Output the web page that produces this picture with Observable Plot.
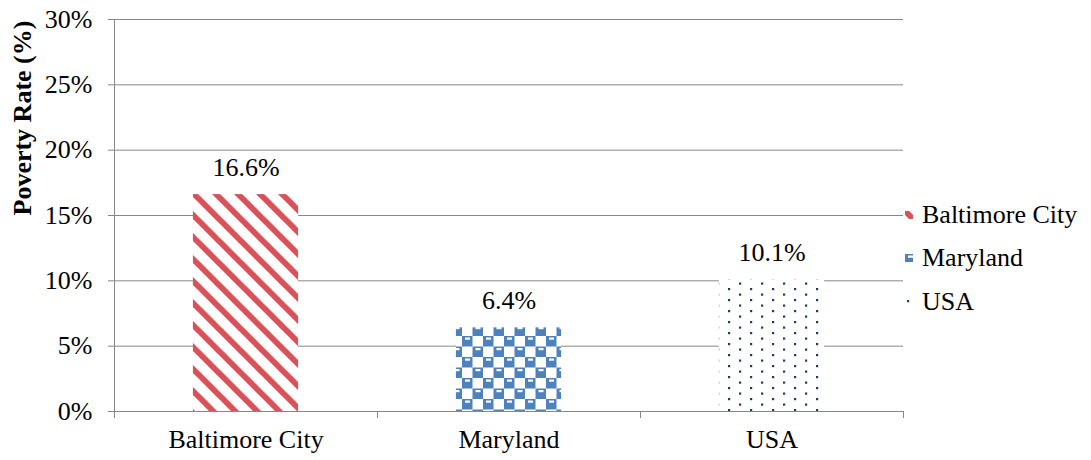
<!DOCTYPE html>
<html>
<head>
<meta charset="utf-8">
<script src="https://cdn.jsdelivr.net/npm/d3@7"></script>
<script src="https://cdn.jsdelivr.net/npm/@observablehq/plot@0.6"></script>
<style>
  html, body { margin: 0; padding: 0; background: #fff; }
  #wrap { position: relative; width: 1091px; height: 460px; font-family: "Liberation Serif", "Times New Roman", serif; }
  #legend { position: absolute; left: 905px; top: 0; }
  .item { position: absolute; left: 0; white-space: nowrap; font-size: 26px; line-height: 30px; height: 30px; display: flex; align-items: center; }
  .item svg { margin-right: 9px; }
</style>
</head>
<body>
<div id="wrap"><div id="legend"></div></div>
<script>
const categories = ["Baltimore City", "Maryland", "USA"];
const rates = [16.6, 6.4, 10.1];
const yTicks = [0, 5, 10, 15, 20, 25, 30];
const yLabel = "Poverty Rate (%)";

const data = categories.map((c, i) => ({category: c, index: i, rate: rates[i]}));
const gray = "#878787";
const font = "Liberation Serif, Times New Roman, serif";

const chart = Plot.plot({
  width: 1091,
  height: 460,
  marginLeft: 114,
  marginRight: 188,
  marginTop: 19,
  marginBottom: 49,
  style: {fontFamily: font, fontSize: "26px", color: "#000", background: "white", overflow: "visible"},
  x: {domain: [0, categories.length], axis: null},
  y: {domain: [0, 30], axis: null},
  color: {type: "identity"},
  marks: [
    Plot.gridY(yTicks, {stroke: gray, strokeOpacity: 1, strokeWidth: 1}),
    Plot.rectY(data, {
      x1: d => d.index + 0.3,
      x2: d => d.index + 0.7,
      y1: 0,
      y2: "rate",
      fill: d => `url(#pat-${d.index})`
    }),
    Plot.ruleX([0], {stroke: gray}),
    Plot.ruleY([0], {stroke: gray}),
    Plot.axisY(yTicks, {tickSize: 6, tickPadding: 16, tickFormat: d => d + "%", stroke: gray, fontSize: 26, label: null}),
    Plot.axisX(d3.range(categories.length + 1), {tickSize: 7, tickFormat: () => "", stroke: gray, label: null}),
    Plot.axisX(categories.map((c, i) => i + 0.5), {tickSize: 0, tickPadding: 18, tickFormat: (d, i) => categories[i], fontSize: 26, label: null}),
    Plot.text(data, {x: d => d.index + 0.5, y: "rate", text: d => d.rate.toFixed(1) + "%", dy: -27, fontSize: 26, fill: "black"}),
    Plot.text([yLabel], {frameAnchor: "left", rotate: -90, dx: -92, fontWeight: "bold", fontSize: 26, fill: "black"})
  ]
});

document.getElementById("wrap").prepend(chart);

// Pattern definitions used as bar fills
const svg = d3.select(chart);
const defs = svg.insert("defs", ":first-child");

const p0 = defs.append("pattern").attr("id", "pat-0").attr("patternUnits", "userSpaceOnUse").attr("width", 22).attr("height", 22);
p0.append("rect").attr("width", 22).attr("height", 22).attr("fill", "white");
p0.append("path").attr("d", "M-6,-6L28,28M-11,11L11,33M11,-11L33,11").attr("stroke", "#d9525a").attr("stroke-width", 5.8);

const p1 = defs.append("pattern").attr("id", "pat-1").attr("patternUnits", "userSpaceOnUse").attr("width", 21).attr("height", 21);
p1.append("rect").attr("width", 21).attr("height", 21).attr("fill", "white");
p1.append("rect").attr("x", 0).attr("y", 0).attr("width", 10.5).attr("height", 10.5).attr("fill", "#4f81bd");
p1.append("rect").attr("x", 10.5).attr("y", 10.5).attr("width", 10.5).attr("height", 10.5).attr("fill", "#4f81bd");
p1.append("rect").attr("x", 3).attr("y", 1.5).attr("width", 5).attr("height", 2.2).attr("fill", "white");
p1.append("rect").attr("x", 13.5).attr("y", 12).attr("width", 5).attr("height", 2.2).attr("fill", "white");

const p2 = defs.append("pattern").attr("id", "pat-2").attr("patternUnits", "userSpaceOnUse").attr("width", 22).attr("height", 11);
p2.append("rect").attr("width", 22).attr("height", 11).attr("fill", "white");
p2.append("rect").attr("x", 2).attr("y", 2).attr("width", 2.2).attr("height", 2.2).attr("fill", "#1f3b63");
p2.append("rect").attr("x", 13).attr("y", 7.5).attr("width", 2.2).attr("height", 2.2).attr("fill", "#1f3b63");

// Legend
const legend = d3.select("#legend");
const rowCenters = [215, 258, 302];
categories.forEach((c, i) => {
  const item = legend.append("div").attr("class", "item").style("top", (rowCenters[i] - 15) + "px");
  const sw = item.append("svg").attr("width", 8).attr("height", 8);
  sw.append("rect").attr("width", 8).attr("height", 8).attr("fill", `url(#pat-${i})`);
  item.append("span").text(c);
});
</script>
</body>
</html>
